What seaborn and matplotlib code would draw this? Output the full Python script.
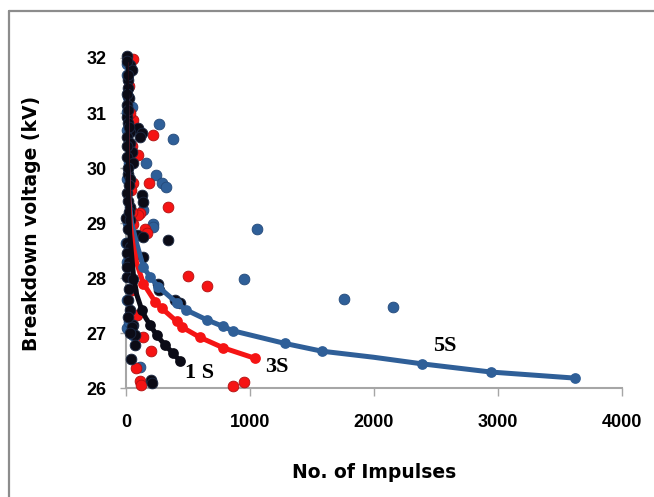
import matplotlib
matplotlib.use('Agg')
import matplotlib.pyplot as plt
import seaborn as sns
from matplotlib.lines import Line2D

s1_x = [5, 32, 46, 19, 19, 27, 10, 5, 19, 99, 32, 127, 5, 113, 32, 46, 10, 59, 19, 30,
        5, 127, 140, 32, 0, 32, 86, 140, 341, 5, 32, 5, 140, 5, 59, 269, 261, 19, 395, 435,
        32, 59, 46, 73, 73, 38, 199, 207, 10, 15, 8, 12, 22, 8, 15, 25, 12, 20, 15, 22,
        10, 28, 15, 30]
s1_y = [32.04, 31.87, 31.78, 31.6, 31.45, 31.27, 31.15, 30.93, 30.81, 30.72, 30.66, 30.63,
        30.57, 30.57, 30.45, 30.30, 30.2, 30.09, 29.90, 29.8, 29.54, 29.51, 29.39, 29.29,
        29.09, 29.05, 28.78, 28.74, 28.70, 28.63, 28.57, 28.45, 28.39, 28.02, 27.99, 27.79,
        27.90, 27.6, 27.6, 27.54, 27.42, 27.15, 27.11, 26.96, 26.78, 26.52, 26.15, 26.10,
        31.95, 31.7, 31.35, 31.05, 30.75, 30.4, 30.0, 29.7, 29.4, 29.2, 28.9, 28.3, 28.2,
        27.8, 27.3, 27.0]

s3_x = [54, 59, 220, 99, 188, 59, 341, 113, 99, 54, 153, 172, 73, 497, 651, 46, 86, 140,
        199, 81, 113, 118, 865, 952, 20, 30, 45, 40, 50]
s3_y = [31.98, 30.87, 30.60, 30.24, 29.73, 29.72, 29.29, 29.18, 29.15, 28.99, 28.90, 28.82,
        28.48, 28.04, 27.85, 27.78, 27.33, 26.93, 26.68, 26.36, 26.12, 26.05, 26.04, 26.11,
        31.5, 31.0, 30.4, 29.6, 29.2]

s5_x = [5, 46, 5, 269, 381, 161, 242, 288, 323, 140, 215, 220, 1054, 0, 952, 1761, 2156,
        59, 113, 5, 10, 15, 10, 20, 5, 15, 10, 5, 20]
s5_y = [31.69, 31.11, 31.02, 30.80, 30.52, 30.10, 29.88, 29.73, 29.66, 29.24, 28.98, 28.92,
        28.90, 28.63, 27.98, 27.61, 27.47, 26.96, 26.38, 27.1, 31.9, 31.3, 30.7, 30.1, 29.8,
        29.0, 28.3, 27.6, 27.2]

# fitted curves
c1_x = [2, 5, 10, 18, 30, 46, 60, 86, 127, 160, 194, 247, 315, 381, 435]
c1_y = [32.0, 31.0, 30.1, 29.4, 28.8, 28.4, 28.05, 27.7, 27.42, 27.27, 27.15, 26.96, 26.78, 26.63, 26.49]
c1_mx = [127, 194, 247, 315, 381, 435]
c1_my = [27.42, 27.15, 26.96, 26.78, 26.63, 26.49]

c3_x = [2, 6, 12, 22, 35, 59, 86, 140, 234, 288, 409, 449, 597, 785, 1040]
c3_y = [31.9, 30.8, 30.0, 29.4, 28.95, 28.57, 28.27, 27.90, 27.57, 27.45, 27.21, 27.11, 26.92, 26.73, 26.54]
c3_mx = [140, 234, 288, 409, 449, 597, 785, 1040]
c3_my = [27.90, 27.57, 27.45, 27.21, 27.11, 26.92, 26.73, 26.54]

c5_x = [2, 6, 12, 25, 45, 86, 140, 194, 261, 409, 484, 651, 782, 863, 1282, 1578, 1994, 2385, 2944, 3621]
c5_y = [31.9, 30.9, 30.1, 29.4, 29.0, 28.63, 28.2, 28.02, 27.84, 27.55, 27.42, 27.24, 27.12, 27.04,
        26.81, 26.67, 26.56, 26.44, 26.29, 26.18]
c5_mx = [140, 194, 261, 409, 484, 651, 782, 863, 1282, 1578, 2385, 2944, 3621]
c5_my = [28.2, 28.02, 27.84, 27.55, 27.42, 27.24, 27.12, 27.04, 26.81, 26.67, 26.44, 26.29, 26.18]

labels = ['1 S', '3S', '5S']
label_x = [597, 1215, 2573]
label_y = [26.27, 26.39, 26.77]

blue = '#2f5f98'
red = '#f51414'
black = '#0b0b16'

sns.set_style('white')
plt.rcParams['font.family'] = ['Liberation Sans', 'DejaVu Sans']
plt.rcParams['text.color'] = 'black'
plt.rcParams['axes.labelcolor'] = 'black'

fig = plt.figure(figsize=(6.54, 4.97), dpi=100)
ax = fig.add_axes([0.1927, 0.2193, 0.7584, 0.664])

# scatter of measurements
for xs, ys, col, edge in [(s5_x, s5_y, blue, '#23497a'),
                          (s3_x, s3_y, red, '#b01010'),
                          (s1_x, s1_y, black, '#1c2a44')]:
    sns.scatterplot(x=xs, y=ys, color=col, s=60, edgecolor=edge, linewidth=0.6,
                    ax=ax, clip_on=False, zorder=3)

# curves with markers
for cx, cy, mx, my, col in [(c5_x, c5_y, c5_mx, c5_my, blue),
                            (c3_x, c3_y, c3_mx, c3_my, red),
                            (c1_x, c1_y, c1_mx, c1_my, black)]:
    sns.lineplot(x=cx, y=cy, sort=False, estimator=None, color=col, linewidth=3.6,
                 ax=ax, zorder=4)
    sns.scatterplot(x=mx, y=my, color=col, s=60, edgecolor=col, linewidth=0,
                    ax=ax, clip_on=False, zorder=5)

for t, tx, ty in zip(labels, label_x, label_y):
    ax.text(tx, ty, t, family='Liberation Serif', fontweight='bold', fontsize=16,
            color='black', ha='center', va='center', zorder=6)

ax.set_xlim(0, 4000)
ax.set_ylim(26, 32)
ax.set_xticks([0, 1000, 2000, 3000, 4000])
ax.set_yticks([26, 27, 28, 29, 30, 31, 32])

for side in ['top', 'right']:
    ax.spines[side].set_visible(False)
for side in ['left', 'bottom']:
    ax.spines[side].set_color('#a6a6a6')
    ax.spines[side].set_linewidth(1.5)

ax.tick_params(axis='y', direction='out', length=4, width=1, color='#a6a6a6', pad=10,
               labelsize=13, labelcolor='black', left=True)
ax.tick_params(axis='x', direction='out', length=6, width=1, color='#a6a6a6', pad=13,
               labelsize=13, labelcolor='black', bottom=True)
for lab in ax.get_xticklabels() + ax.get_yticklabels():
    lab.set_fontweight('bold')

ax.set_ylabel('Breakdown voltage (kV)', fontsize=13.5, fontweight='bold', family='DejaVu Sans')
ax.yaxis.set_label_coords(-0.171, 0.5)
ax.set_xlabel('No. of Impulses', fontsize=13.5, fontweight='bold', family='DejaVu Sans')
ax.xaxis.set_label_coords(0.5, -0.228)

# outer frame (cropped at right and bottom)
ytop = 1 - 11 / 497
fig.add_artist(Line2D([9 / 654, 1], [ytop, ytop], transform=fig.transFigure,
                      color='#8c8c8c', linewidth=1.6))
fig.add_artist(Line2D([9 / 654, 9 / 654], [0, ytop], transform=fig.transFigure,
                      color='#8c8c8c', linewidth=1.6))

fig.savefig('out.png', dpi=100)
